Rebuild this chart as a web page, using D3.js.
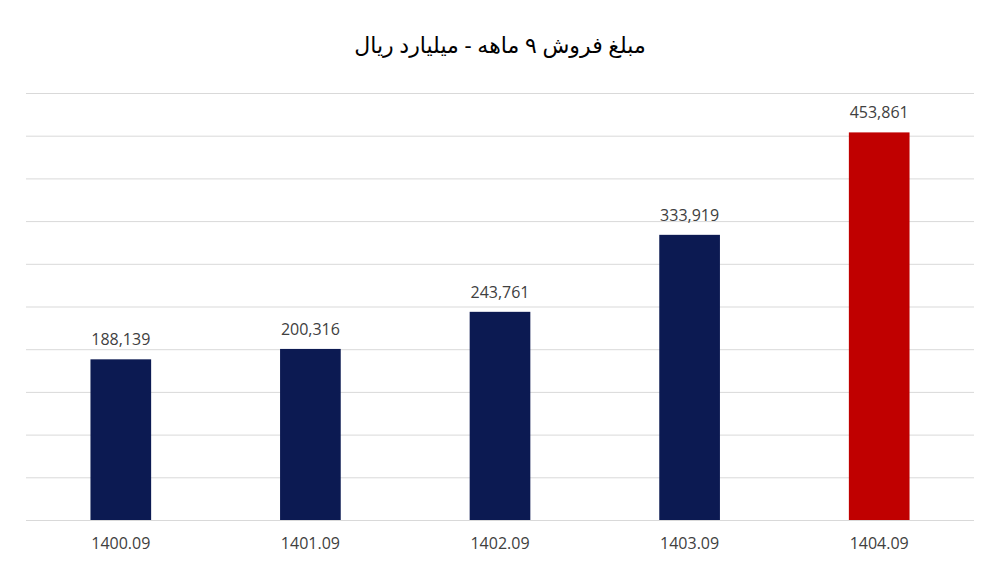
<!DOCTYPE html>
<html>
<head>
<meta charset="utf-8">
<script src="https://cdn.jsdelivr.net/npm/d3@7"></script>
<style>
  body { margin: 0; background: #fff; }
</style>
</head>
<body>
<div class="canvas"></div>
<script>
// data
const categories = ['1400.09', '1401.09', '1402.09', '1403.09', '1404.09'];
const sales = [188139, 200316, 243761, 333919, 453861];
const barColors = ['#0c1a52', '#0c1a52', '#0c1a52', '#0c1a52', '#c00000'];
const titleText = 'مبلغ فروش ۹ ماهه - میلیارد ریال';

const width = 1000, height = 573;
const margin = {top: 93, right: 26, bottom: 53, left: 26};
const graphWidth = width - margin.left - margin.right;
const graphHeight = height - margin.top - margin.bottom;

const svg = d3.select('.canvas')
    .append('svg')
        .attr('width', width)
        .attr('height', height);

svg.append('text')
    .attr('x', width / 2)
    .attr('y', 53)
    .attr('text-anchor', 'middle')
    .attr('direction', 'rtl')
    .attr('font-family', 'Noto Sans, DejaVu Sans, sans-serif')
    .attr('font-size', 22)
    .attr('fill', '#000')
    .text(titleText);

const graph = svg.append('g')
    .attr('transform', `translate(${margin.left}, ${margin.top})`);

// scales
const y = d3.scaleLinear().domain([0, 500000]).range([graphHeight, 0]);
const x = d3.scaleBand().domain(categories).range([0, graphWidth]).paddingInner(0.68).paddingOuter(0.34);

// gridlines
const yGrid = graph.append('g')
    .call(d3.axisLeft(y).ticks(10).tickSize(-graphWidth).tickFormat(''));
yGrid.select('.domain').remove();
yGrid.selectAll('line').attr('stroke', '#d9d9d9').attr('stroke-width', 1);

// bars
graph.selectAll('rect')
    .data(sales)
    .enter()
    .append('rect')
        .attr('x', (d, i) => x(categories[i]))
        .attr('y', d => y(d))
        .attr('width', x.bandwidth())
        .attr('height', d => graphHeight - y(d))
        .attr('fill', (d, i) => barColors[i]);

// value labels
graph.selectAll('.val')
    .data(sales)
    .enter()
    .append('text')
        .attr('class', 'val')
        .attr('x', (d, i) => x(categories[i]) + x.bandwidth() / 2)
        .attr('y', d => y(d) - 14)
        .attr('text-anchor', 'middle')
        .attr('font-family', 'Open Sans, sans-serif')
        .attr('font-size', 16)
        .attr('fill', '#404040')
        .text(d => d3.format(',')(d));

// x axis
const xAxisGroup = graph.append('g')
    .attr('transform', `translate(0, ${graphHeight})`)
    .call(d3.axisBottom(x).tickSize(0).tickPadding(18));
xAxisGroup.select('.domain').remove();
xAxisGroup.selectAll('text')
    .attr('font-family', 'Open Sans, sans-serif')
    .attr('font-size', 16)
    .attr('fill', '#404040');
</script>
</body>
</html>
